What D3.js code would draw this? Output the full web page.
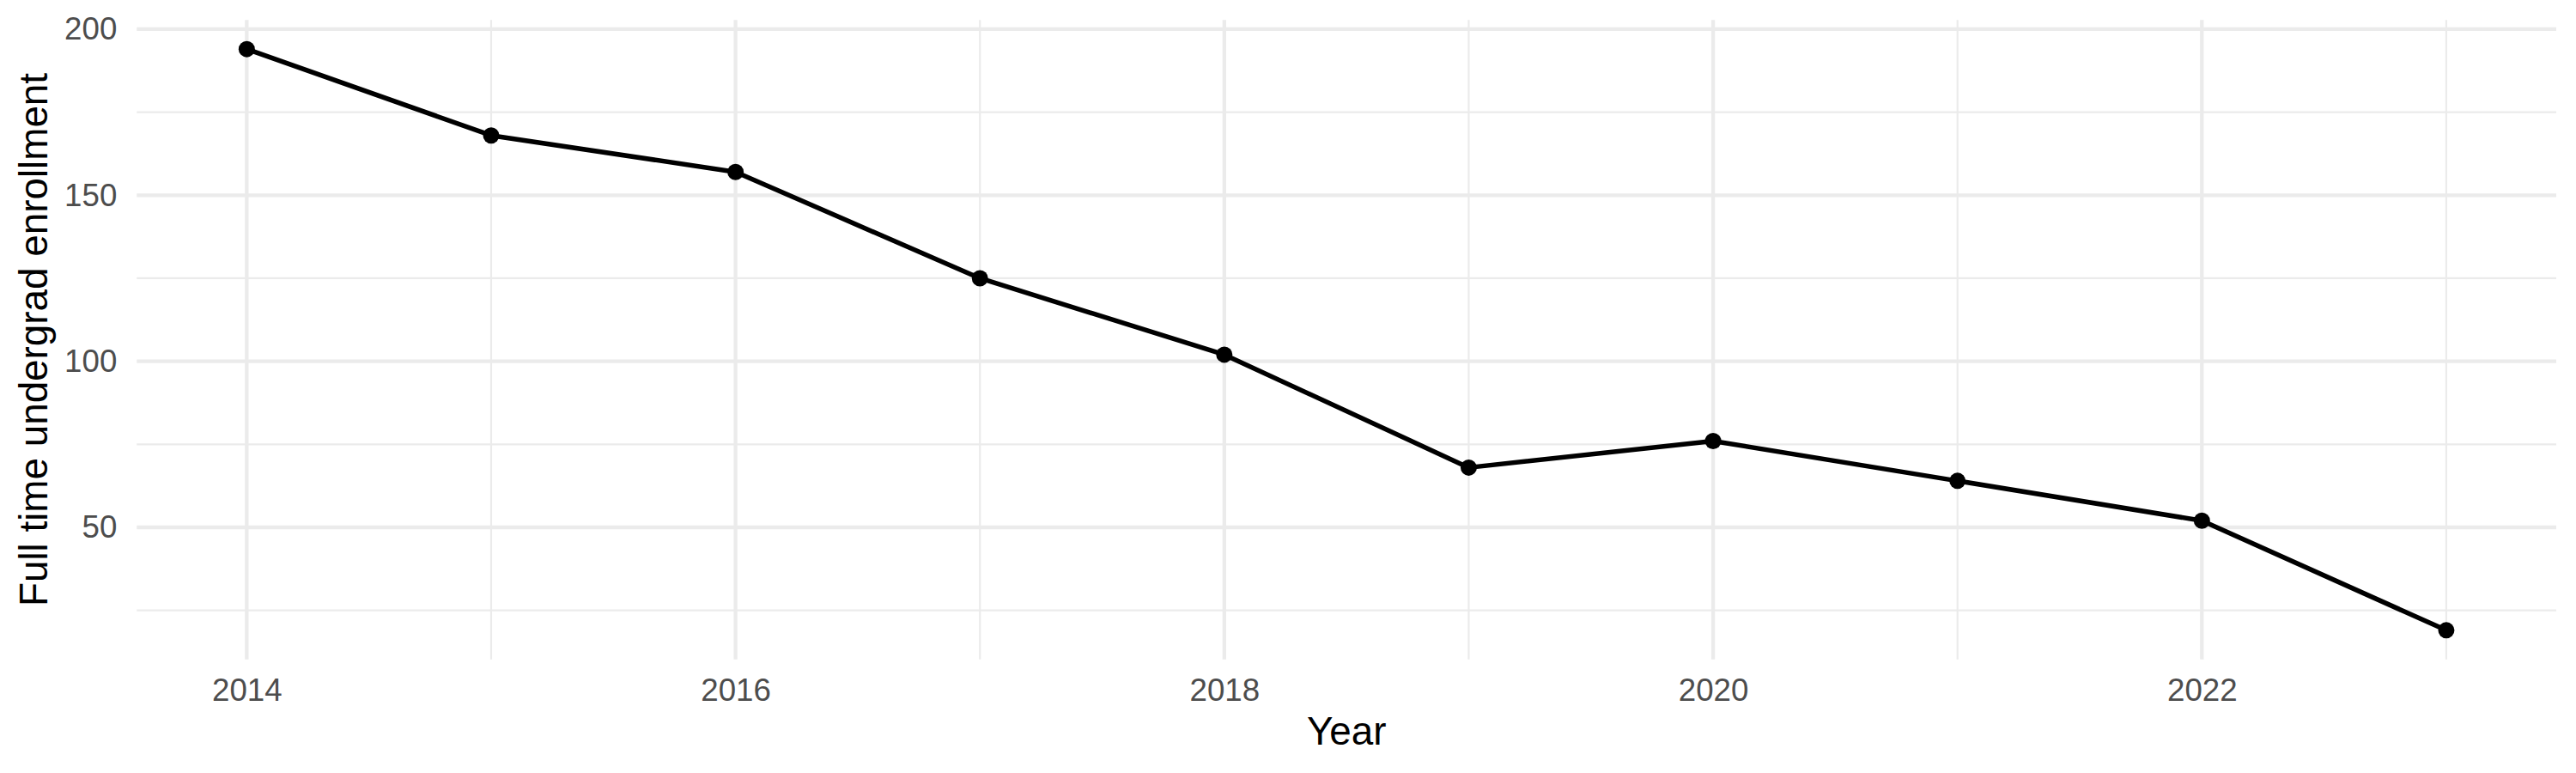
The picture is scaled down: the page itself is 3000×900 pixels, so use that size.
<!DOCTYPE html>
<html>
<head>
<meta charset="utf-8">
<script src="https://cdn.jsdelivr.net/npm/d3@7"></script>
<style>
  body { margin: 0; background: #fff; }
  text { font-family: "Liberation Sans", Arial, Helvetica, sans-serif; }
</style>
</head>
<body>
<svg id="chart" width="3000" height="900"></svg>
<script>
var years = [2014, 2015, 2016, 2017, 2018, 2019, 2020, 2021, 2022, 2023];
var enrollment = [194, 168, 157, 125, 102, 68, 76, 64, 52, 19];
var xMajorTicks = [2014, 2016, 2018, 2020, 2022];
var xMinorTicks = [2015, 2017, 2019, 2021, 2023];
var yMajorTicks = [50, 100, 150, 200];
var yMinorTicks = [25, 75, 125, 175];

var margin = {top: 23.3, right: 23, bottom: 132.3, left: 159.3},
    width = 3000 - margin.left - margin.right,
    height = 900 - margin.top - margin.bottom;

var svg = d3.select("#chart");

// ggplot style 5% expansion on both axes
var xExt = d3.extent(years), yExt = d3.extent(enrollment);
var xPad = (xExt[1] - xExt[0]) * 0.05, yPad = (yExt[1] - yExt[0]) * 0.05;

var x = d3.scaleLinear()
    .domain([xExt[0] - xPad, xExt[1] + xPad])
    .range([margin.left, margin.left + width]);

var y = d3.scaleLinear()
    .domain([yExt[0] - yPad, yExt[1] + yPad])
    .range([margin.top + height, margin.top]);

var grid = svg.append("g").attr("class", "grid");

// minor grid first, then major
grid.selectAll("line.ymin").data(yMinorTicks).enter().append("line")
    .attr("x1", margin.left).attr("x2", margin.left + width)
    .attr("y1", function(d){ return y(d); }).attr("y2", function(d){ return y(d); })
    .attr("stroke", "#EBEBEB").attr("stroke-width", 2.2);

grid.selectAll("line.xmin").data(xMinorTicks).enter().append("line")
    .attr("y1", margin.top).attr("y2", margin.top + height)
    .attr("x1", function(d){ return x(d); }).attr("x2", function(d){ return x(d); })
    .attr("stroke", "#EBEBEB").attr("stroke-width", 2.2);

grid.selectAll("line.ymaj").data(yMajorTicks).enter().append("line")
    .attr("x1", margin.left).attr("x2", margin.left + width)
    .attr("y1", function(d){ return y(d); }).attr("y2", function(d){ return y(d); })
    .attr("stroke", "#EBEBEB").attr("stroke-width", 4.3);

grid.selectAll("line.xmaj").data(xMajorTicks).enter().append("line")
    .attr("y1", margin.top).attr("y2", margin.top + height)
    .attr("x1", function(d){ return x(d); }).attr("x2", function(d){ return x(d); })
    .attr("stroke", "#EBEBEB").attr("stroke-width", 4.3);

// axes: d3 axes with the domain line and ticks hidden (theme_minimal look)
var yAxis = svg.append("g")
    .attr("transform", "translate(" + (margin.left - 23) + ",0)")
    .call(d3.axisLeft(y).tickValues(yMajorTicks).tickSize(0).tickPadding(0));
yAxis.select(".domain").remove();
yAxis.selectAll("text")
    .attr("font-family", "'Liberation Sans', Arial, sans-serif")
    .attr("font-size", 36.7)
    .attr("fill", "#4D4D4D");

var xAxis = svg.append("g")
    .attr("transform", "translate(0," + (margin.top + height) + ")")
    .call(d3.axisBottom(x).tickValues(xMajorTicks).tickFormat(d3.format("d")).tickSize(0).tickPadding(0));
xAxis.select(".domain").remove();
xAxis.selectAll("text")
    .attr("font-family", "'Liberation Sans', Arial, sans-serif")
    .attr("font-size", 36.7)
    .attr("fill", "#4D4D4D")
    .attr("dy", null)
    .attr("y", 816 - (margin.top + height));

// line + points
var line = d3.line()
    .x(function(d, i){ return x(years[i]); })
    .y(function(d){ return y(d); });

svg.append("path")
    .datum(enrollment)
    .attr("d", line)
    .attr("fill", "none")
    .attr("stroke", "#000")
    .attr("stroke-width", 5.5)
    .attr("stroke-linejoin", "round");

svg.selectAll("circle.pt").data(enrollment).enter().append("circle")
    .attr("class", "pt")
    .attr("cx", function(d, i){ return x(years[i]); })
    .attr("cy", function(d){ return y(d); })
    .attr("r", 9.5)
    .attr("fill", "#000");

// axis titles
svg.append("text")
    .attr("x", margin.left + width / 2)
    .attr("y", 867)
    .attr("text-anchor", "middle")
    .attr("font-size", 45.8)
    .attr("fill", "#000")
    .text("Year");

svg.append("text")
    .attr("transform", "translate(55," + (margin.top + height / 2) + ") rotate(-90)")
    .attr("text-anchor", "middle")
    .attr("font-size", 45.8)
    .attr("fill", "#000")
    .text("Full time undergrad enrollment");
</script>
</body>
</html>
